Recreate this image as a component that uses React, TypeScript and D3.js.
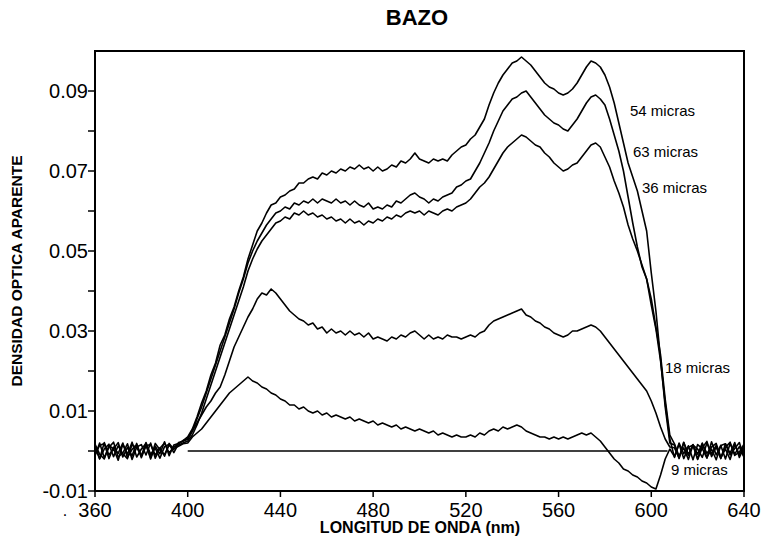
import React from "react";
import * as d3 from "d3";

// Wavelength grid (nm)
const WAVELENGTHS = [
  360, 362, 364, 366, 368, 370, 372, 374, 376, 378,
  380, 382, 384, 386, 388, 390, 392, 394, 396, 398,
  400, 402, 404, 406, 408, 410, 412, 414, 416, 418,
  420, 422, 424, 426, 428, 430, 432, 434, 436, 438,
  440, 442, 444, 446, 448, 450, 452, 454, 456, 458,
  460, 462, 464, 466, 468, 470, 472, 474, 476, 478,
  480, 482, 484, 486, 488, 490, 492, 494, 496, 498,
  500, 502, 504, 506, 508, 510, 512, 514, 516, 518,
  520, 522, 524, 526, 528, 530, 532, 534, 536, 538,
  540, 542, 544, 546, 548, 550, 552, 554, 556, 558,
  560, 562, 564, 566, 568, 570, 572, 574, 576, 578,
  580, 582, 584, 586, 588, 590, 592, 594, 596, 598,
  600, 602, 604, 606, 608, 610, 612, 614, 616, 618,
  620, 622, 624, 626, 628, 630, 632, 634, 636, 638,
  640,
];

// Apparent optical density, in milli-units (x 0.001)
const S54 = [
  1.4, -1.9, 2.1, -1.0, 0.6, -2.3, 1.7, -0.8, 2.2, -1.5,
  0.5, 1.9, -2.0, 1.2, -0.7, 2.3, -1.2, 1.5, 1.9, 2.6,
  3.5, 5.5, 8.5, 12, 15, 19, 22, 26.5, 29, 33,
  36, 40, 43.5, 48, 51.5, 55, 57, 59.5, 61.5, 62,
  63.5, 64, 65, 65.5, 67, 67, 68, 68.5, 68, 69.5,
  69, 70, 69.5, 70.5, 70, 71, 70.5, 71.5, 70.5, 71,
  70, 71, 70, 70.5, 71.5, 71, 72.5, 72, 73, 74.5,
  73, 72.5, 72, 73, 72.5, 73, 72.5, 74, 75, 76,
  76.5, 78, 79, 81, 83, 86.5, 89.5, 92, 94, 95.5,
  97, 97.5, 98.5, 97.5, 96.5, 95, 93.5, 92, 91, 90.5,
  89.5, 89, 89.5, 90.5, 92, 94, 96, 97.5, 97, 96,
  94, 91, 87, 82, 77, 72, 68.5, 65, 60, 55,
  44.5, 35, 23, 11, 2, 1.5, -1.9, 2.2, -0.9, 1.6,
  -2.1, 0.8, 2.4, -1.4, 1.0, -1.9, 1.8, -0.6, 2.1, -1.6,
  0.9,
];

const S63 = [
  -1.2, 2.0, -1.7, 0.9, 2.2, -1.5, -0.5, 1.8, -2.1, 1.0,
  1.6, -1.0, 2.0, -1.8, 0.8, -1.3, 1.9, 0.4, 2.1, 2.4,
  3, 5, 8, 11, 14.5, 18, 21.5, 25, 28.5, 32,
  35.5, 39.5, 43, 47, 50, 52.5, 54.5, 56.5, 58, 59.5,
  60, 61, 60.5, 62, 61.5, 62.5, 62, 63, 62, 63,
  62.5, 62, 63, 62, 62.5, 61.5, 62.5, 61.5, 61, 62,
  60.5, 61, 60.5, 61.5, 61, 62.5, 62, 63, 64, 64.5,
  63.5, 63, 62, 63, 62.5, 63.5, 64, 64.5, 66, 66.5,
  67.5, 68, 70, 72, 74.5, 77, 80, 82.5, 85, 86.5,
  88, 88.5, 89.5, 90, 88.5, 87, 85.5, 84, 83, 82,
  81.5, 80.5, 80, 81.5, 83, 85, 87, 88.5, 89, 88,
  86.5, 83, 79, 75, 70, 63.5, 57, 51, 46, 43,
  36.5, 30.5, 22.5, 12, 3, -1.6, 2.0, -0.7, 1.3, -2.2,
  1.6, 0.6, -1.8, 2.3, -1.0, 1.4, -2.0, 1.9, -0.8, 1.1,
  -1.5,
];

const S36 = [
  1.7, -0.8, -2.0, 1.4, 0.5, 2.1, -1.5, 0.9, -1.2, 1.9,
  -1.7, 1.3, 1.6, -1.0, 0.7, 2.0, -0.5, 1.1, 1.5, 2.0,
  2.5, 4, 6.5, 9.5, 13, 16.5, 20, 23.5, 27, 30.5,
  34, 37.5, 41, 45, 48, 50.5, 52.5, 54, 55.5, 57,
  57.5, 58.5, 58, 59.5, 59, 60, 59, 59.5, 58.5, 59,
  58, 58.5, 57.5, 58, 57, 58, 57, 57.5, 56.5, 57.5,
  57, 58, 57.5, 58.5, 58, 59, 58.5, 59.5, 60, 59.5,
  60, 59, 60, 59.5, 59, 60, 60.5, 60, 61, 61.5,
  62, 63, 64.5, 66, 67, 68.5, 70.5, 72.5, 74.5, 76,
  77, 78, 79, 78.5, 77.5, 76.5, 76, 74.5, 73.5, 72,
  71, 70, 70.5, 71.5, 72, 73.5, 75, 76.5, 77, 76,
  73.5, 71, 67.5, 64.5, 61, 56.5, 53, 50, 46.5, 43,
  38, 31, 24, 13, 4, 1.8, -1.3, 0.8, -2.1, 1.5,
  0.5, -1.6, 2.0, -0.7, 1.4, -1.8, 0.9, 2.2, -1.1, -0.3,
  1.7,
];

const S18 = [
  -1.0, 1.4, 1.9, -1.9, 1.0, -0.6, 2.0, -1.6, 0.4, 1.5,
  -1.3, 2.1, -0.8, 0.7, -1.8, 1.1, 1.7, -0.4, 1.8, 2.6,
  3, 5, 7, 9, 11, 12.5, 14.5, 16, 19, 22.5,
  26, 28.5, 31, 33.5, 35.5, 38, 39.5, 39, 40.5, 39.5,
  38, 36.5, 35, 34, 33, 32.5, 31.5, 32, 30.5, 31,
  29.5, 30.5, 29.5, 30, 29, 30, 29, 29.5, 28.5, 29.5,
  28, 28.5, 28, 27.5, 28.5, 28, 29, 28.5, 29.5, 30,
  29, 28, 29, 28, 28.5, 28, 29, 28.5, 28.5, 28,
  28.5, 29, 28.5, 29.5, 30, 31.5, 32.5, 33, 33.5, 34,
  34.5, 35, 35.5, 34, 33.5, 32.5, 32, 31, 30.5, 29.5,
  29, 28.5, 29, 30, 30, 30.5, 31, 31.5, 31, 30,
  28.5, 27, 25.5, 24, 22.5, 21, 19.5, 18, 16.5, 15,
  12.5, 9.5, 6, 3, 1, 0.8, -1.7, 2.1, -1.1, 1.4,
  -2.0, 1.8, -0.6, 1.0, 1.9, -1.5, 0.5, -2.1, 1.6, -0.9,
  1.2,
];

const S9 = [
  1.0, -2.0, 0.5, 1.7, -1.4, 1.3, -0.7, -1.9, 1.6, 0.8,
  -1.1, 1.4, -1.7, 1.9, 0.3, -0.9, 1.5, 0.6, 1.2, 1.8,
  2, 3.5, 4.5, 5.5, 7, 8.5, 10, 11.5, 13, 14.5,
  15.5, 16.5, 17.5, 18.5, 17.5, 17, 16, 15.5, 14.5, 14,
  13, 12.5, 11.5, 11.5, 10.5, 11, 10, 9.5, 10, 9,
  9.5, 8.5, 9, 8.5, 8, 8.5, 7.5, 8, 7.5, 7,
  7.5, 6.5, 7, 6.5, 6, 6.5, 5.5, 6, 5.5, 5,
  5.5, 5, 4.5, 5, 4, 4.5, 4, 3.5, 4, 3.5,
  3.5, 4, 3.5, 4.5, 4, 5, 5.5, 5, 6, 5.5,
  6, 6.5, 6, 5, 4.5, 4, 3.5, 3.5, 3, 3.5,
  3, 3.5, 3, 3.5, 4, 4.5, 4, 4.5, 3.5, 2.5,
  1, -0.5, -2, -3, -4.5, -5, -6, -6.5, -7.5, -8,
  -9, -9.5, -6, -2, 0.5, -1.4, 1.7, -1.9, 0.9, 1.5,
  -0.8, 2.0, -1.6, 0.5, -2.2, 1.4, 1.8, -1.0, 0.6, 2.1,
  -1.6,
];

const SERIES_VALUES = [S54, S63, S36, S18, S9];
const SERIES_LABELS = ["54 micras", "63 micras", "36 micras", "18 micras", "9 micras"];
const LABEL_POS = [
  [630, 116],
  [633, 157],
  [642, 193],
  [665, 373],
  [671, 475],
];

const X_TICKS = [360, 400, 440, 480, 520, 560, 600, 640];
const Y_TICKS_ALL = [-0.01, 0, 0.01, 0.02, 0.03, 0.04, 0.05, 0.06, 0.07, 0.08, 0.09];
const Y_TICK_LABELS = ["-0.01", "", "0.01", "", "0.03", "", "0.05", "", "0.07", "", "0.09"];
const ZERO_LINE_RANGE = [400, 607];

const TITLE = "BAZO";
const X_TITLE = "LONGITUD DE ONDA (nm)";
const Y_TITLE = "DENSIDAD OPTICA APARENTE";

export default function App() {
  const W = 765;
  const H = 541;
  const left = 95;
  const right = 744;
  const top = 51;
  const bottom = 491;

  const x = d3.scaleLinear().domain([360, 640]).range([left, right]);
  const y = d3.scaleLinear().domain([-0.01, 0.1]).range([bottom, top]);

  const line = d3
    .line<[number, number]>()
    .x((d) => x(d[0]))
    .y((d) => y(d[1] / 1000));

  const font = "'Liberation Sans', Arial, Helvetica, sans-serif";

  return (
    <svg
      width={W}
      height={H}
      style={{ position: "absolute", left: 0, top: 0, background: "#fff" }}
      fontFamily={font}
    >
      <rect x={0} y={0} width={W} height={H} fill="#fff" />
      {/* title */}
      <text x={417} y={25} textAnchor="middle" fontSize={22} fontWeight="bold" fill="#000">
        {TITLE}
      </text>

      {/* zero reference line */}
      <line
        x1={x(ZERO_LINE_RANGE[0])}
        x2={x(ZERO_LINE_RANGE[1])}
        y1={y(0)}
        y2={y(0)}
        stroke="#000"
        strokeWidth={1.3}
      />

      {/* series */}
      {SERIES_VALUES.map((vals, i) => {
        const pts: [number, number][] = WAVELENGTHS.slice(0, vals.length).map((w, k) => [w, vals[k]]);
        return (
          <path
            key={i}
            d={line(pts) || ""}
            fill="none"
            stroke="#000"
            strokeWidth={1.6}
            strokeLinejoin="round"
          />
        );
      })}

      {/* frame */}
      <rect x={left} y={top} width={right - left} height={bottom - top} fill="none" stroke="#000" strokeWidth={2} />

      {/* y ticks */}
      {Y_TICKS_ALL.map((t, i) => (
        <g key={"y" + i}>
          <line x1={left - 7} x2={left} y1={y(t)} y2={y(t)} stroke="#000" strokeWidth={1.5} />
          {Y_TICK_LABELS[i] ? (
            <text x={88} y={y(t)} dy="0.36em" textAnchor="end" fontSize={20} fill="#000">
              {Y_TICK_LABELS[i]}
            </text>
          ) : null}
        </g>
      ))}

      {/* x ticks */}
      {X_TICKS.map((t) => (
        <g key={"x" + t}>
          <line x1={x(t)} x2={x(t)} y1={bottom} y2={bottom + 6} stroke="#000" strokeWidth={1.5} />
          <text x={x(t)} y={517} textAnchor="middle" fontSize={20} fill="#000">
            {t}
          </text>
        </g>
      ))}
      <text x={65} y={516} fontSize={16} fill="#000" textAnchor="middle">.</text>

      {/* axis titles */}
      <text x={420} y={533} textAnchor="middle" fontSize={16} fontWeight="bold" fill="#000">
        {X_TITLE}
      </text>
      <text
        transform={`translate(22, ${(top + bottom) / 2}) rotate(-90)`}
        textAnchor="middle"
        fontSize={15.5}
        fontWeight="bold"
        fill="#000"
      >
        {Y_TITLE}
      </text>

      {/* series labels */}
      {SERIES_LABELS.map((lab, i) => (
        <text key={lab} x={LABEL_POS[i][0]} y={LABEL_POS[i][1]} fontSize={15} fill="#000">
          {lab}
        </text>
      ))}
    </svg>
  );
}
